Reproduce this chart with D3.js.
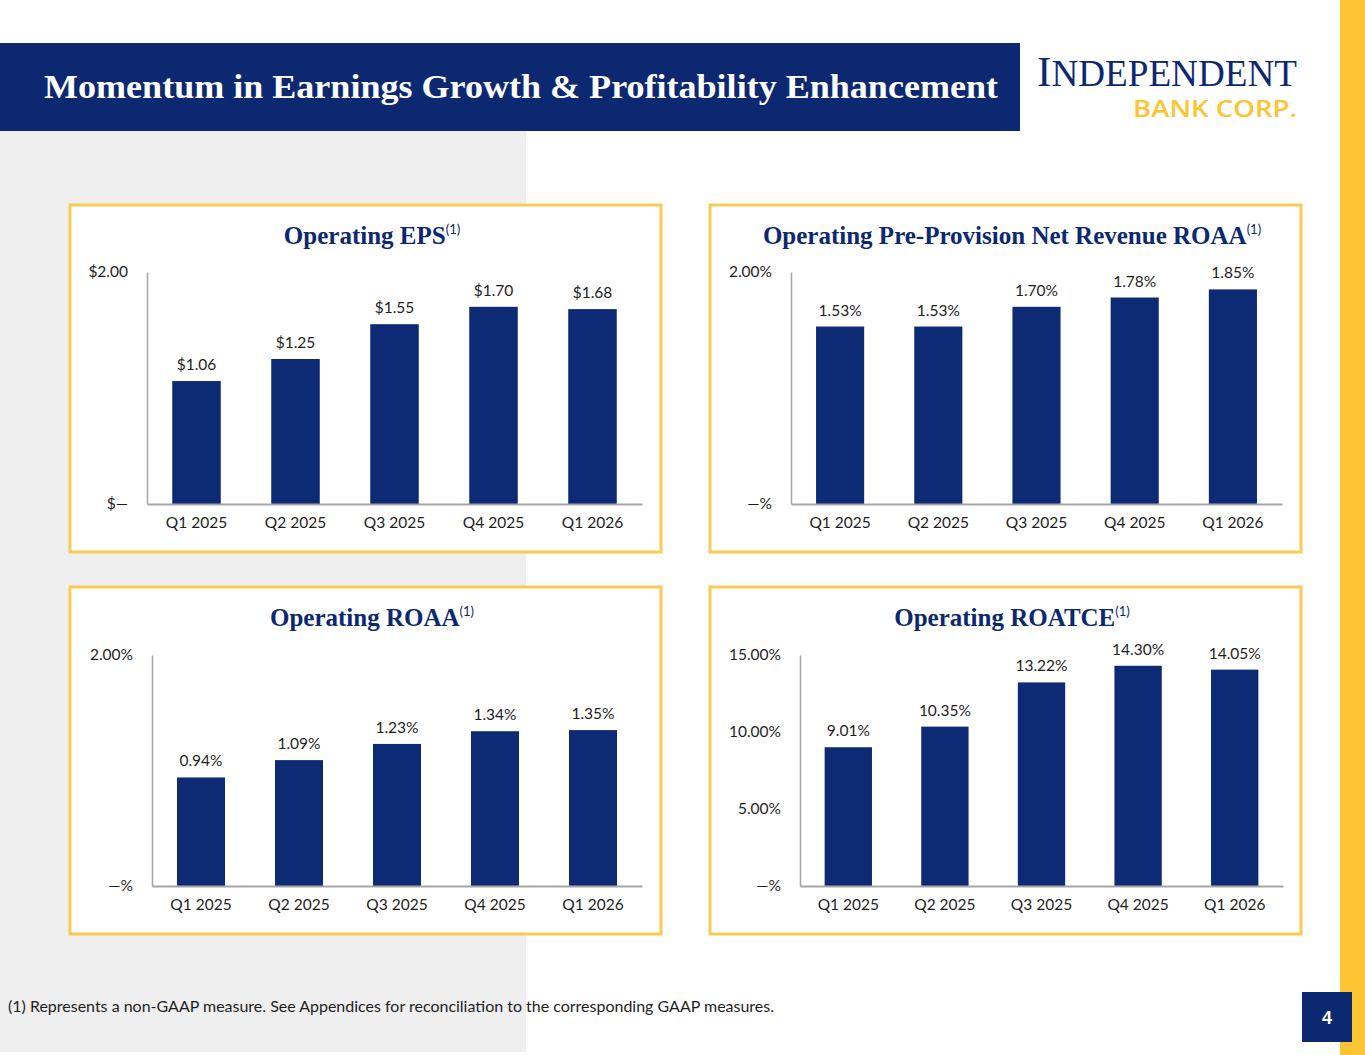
<!DOCTYPE html>
<html>
<head>
<meta charset="utf-8">
<script src="https://cdn.jsdelivr.net/npm/d3@7"></script>
<style>
  html, body { margin: 0; padding: 0; background: #ffffff; }
  svg { display: block; }
</style>
</head>
<body>
<script>
// Slide colors
var navy = '#0c2870';
var barColor = '#0d2a75';
var yellow = '#fdc533';
var panelBorder = '#f9cb55';
var axisGrey = '#a6a6a6';
var textDark = '#1e1e1e';

// Data
var quarters = ['Q1 2025', 'Q2 2025', 'Q3 2025', 'Q4 2025', 'Q1 2026'];
var epsValues = [1.06, 1.25, 1.55, 1.70, 1.68];
var pprnRoaaValues = [1.53, 1.53, 1.70, 1.78, 1.85];
var roaaValues = [0.94, 1.09, 1.23, 1.34, 1.35];
var roatceValues = [9.01, 10.35, 13.22, 14.30, 14.05];

var epsTicks = [0, 2];
var twoPctTicks = [0, 2];
var roatceTicks = [0, 5, 10, 15];

var epsTickLabels = ['$\u2014', '$2.00'];
var twoPctTickLabels = ['\u2014%', '2.00%'];
var roatceTickLabels = ['\u2014%', '5.00%', '10.00%', '15.00%'];

var width = 1365, height = 1055;
var labelFont = 'Lato, "Open Sans", sans-serif';
var serifFont = '"Liberation Serif", "DejaVu Serif", serif';

var svg = d3.select('body').append('svg')
  .attr('width', width)
  .attr('height', height);

// Background pieces
svg.append('rect').attr('x', 0).attr('y', 131).attr('width', 526).attr('height', 921).attr('fill', '#efefef');
svg.append('rect').attr('x', 1340).attr('y', 0).attr('width', 25).attr('height', height).attr('fill', yellow);

// Header bar
svg.append('rect').attr('x', 0).attr('y', 43).attr('width', 1020).attr('height', 88).attr('fill', navy);
svg.append('text')
  .attr('x', 44).attr('y', 98)
  .attr('font-family', serifFont)
  .attr('font-weight', 'bold')
  .attr('font-size', 33)
  .attr('fill', '#ffffff')
  .attr('textLength', 954)
  .attr('lengthAdjust', 'spacingAndGlyphs')
  .text('Momentum in Earnings Growth & Profitability Enhancement');

// Logo (one text block, two lines)
var logo = svg.append('text').attr('fill', navy);
var logoTop = logo.append('tspan')
  .attr('x', 1037).attr('y', 86)
  .attr('font-family', serifFont)
  .attr('textLength', 260)
  .attr('lengthAdjust', 'spacingAndGlyphs');
logoTop.append('tspan').attr('font-size', 43).text('I');
logoTop.append('tspan').attr('font-size', 37).text('NDEPENDENT');
logo.append('tspan')
  .attr('x', 1133).attr('y', 117)
  .attr('font-family', '"Open Sans", sans-serif')
  .attr('font-weight', 600)
  .attr('font-size', 23)
  .attr('fill', yellow)
  .attr('textLength', 164)
  .attr('lengthAdjust', 'spacingAndGlyphs')
  .text('BANK CORP.');

// Panels
var panels = [
  { title: 'Operating EPS', box: [70, 205], axisX: 147, right: 642, top: 272, base: 504,
    values: epsValues, ticks: epsTicks, tickLabels: epsTickLabels, max: 2,
    fmt: function(v) { return '$' + v.toFixed(2); } },
  { title: 'Operating Pre-Provision Net Revenue ROAA', box: [710, 205], axisX: 791, right: 1282, top: 272, base: 504,
    values: pprnRoaaValues, ticks: twoPctTicks, tickLabels: twoPctTickLabels, max: 2,
    fmt: function(v) { return v.toFixed(2) + '%'; } },
  { title: 'Operating ROAA', box: [70, 587], axisX: 152, right: 642, top: 655, base: 886,
    values: roaaValues, ticks: twoPctTicks, tickLabels: twoPctTickLabels, max: 2,
    fmt: function(v) { return v.toFixed(2) + '%'; } },
  { title: 'Operating ROATCE', box: [710, 587], axisX: 800, right: 1283, top: 655, base: 886,
    values: roatceValues, ticks: roatceTicks, tickLabels: roatceTickLabels, max: 15,
    fmt: function(v) { return v.toFixed(2) + '%'; } }
];

var drawPanel = function(p) {
  var g = svg.append('g');
  // Panel frame
  g.append('rect')
    .attr('x', p.box[0]).attr('y', p.box[1])
    .attr('width', 591).attr('height', 347)
    .attr('fill', '#ffffff')
    .attr('stroke', panelBorder)
    .attr('stroke-width', 3);

  // Title with superscript
  var title = g.append('text')
    .attr('x', p.box[0] + 302).attr('y', p.box[1] + 39)
    .attr('text-anchor', 'middle')
    .attr('font-family', serifFont)
    .attr('font-weight', 'bold')
    .attr('font-size', 25)
    .attr('fill', navy);
  title.append('tspan').text(p.title);
  title.append('tspan')
    .attr('font-family', labelFont)
    .attr('font-size', 13)
    .attr('font-weight', 'normal')
    .attr('dy', -10)
    .text('(1)');

  var x = d3.scaleBand()
    .domain(quarters)
    .range([p.axisX, p.right])
    .paddingInner(0.51)
    .paddingOuter(0.255);
  var y = d3.scaleLinear()
    .domain([0, p.max])
    .range([p.base, p.top]);

  // Bars
  g.selectAll('rect.bar')
    .data(p.values)
    .enter()
    .append('rect')
    .attr('class', 'bar')
    .attr('x', (d, i) => x(quarters[i]))
    .attr('y', d => y(d))
    .attr('width', x.bandwidth())
    .attr('height', d => y(0) - y(d))
    .attr('fill', barColor);

  // Value labels
  g.selectAll('text.val')
    .data(p.values)
    .enter()
    .append('text')
    .attr('class', 'val')
    .attr('x', (d, i) => x(quarters[i]) + x.bandwidth() / 2)
    .attr('y', d => y(d) - 11)
    .attr('text-anchor', 'middle')
    .attr('font-family', labelFont)
    .attr('font-size', 15.5)
    .attr('fill', textDark)
    .text(d => p.fmt(d));

  // Y axis (line + labels only)
  var yAxis = d3.axisLeft(y)
    .tickValues(p.ticks)
    .tickSize(0)
    .tickPadding(19)
    .tickFormat((d, i) => p.tickLabels[i]);
  var yg = g.append('g').attr('transform', 'translate(' + p.axisX + ',0)').call(yAxis);
  yg.select('.domain').attr('stroke', axisGrey).attr('stroke-width', 1.5);
  yg.selectAll('text').attr('font-family', labelFont).attr('font-size', 15.5).attr('fill', textDark);

  // X axis
  var xAxis = d3.axisBottom(x).tickSize(0).tickPadding(13);
  var xg = g.append('g').attr('transform', 'translate(0,' + p.base + ')').call(xAxis);
  xg.select('.domain').attr('stroke', axisGrey).attr('stroke-width', 2);
  xg.selectAll('text').attr('font-family', labelFont).attr('font-size', 15.5).attr('fill', textDark);
}

panels.forEach(drawPanel);

// Footnote
svg.append('text')
  .attr('x', 8).attr('y', 1012)
  .attr('font-family', labelFont)
  .attr('font-size', 15)
  .attr('fill', textDark)
  .attr('textLength', 766)
  .attr('lengthAdjust', 'spacingAndGlyphs')
  .text('(1) Represents a non-GAAP measure. See Appendices for reconciliation to the corresponding GAAP measures.');

// Page number
svg.append('rect').attr('x', 1302).attr('y', 992).attr('width', 50).attr('height', 50).attr('fill', navy);
svg.append('text')
  .attr('x', 1327).attr('y', 1024)
  .attr('text-anchor', 'middle')
  .attr('font-family', '"Liberation Sans", Arial, sans-serif')
  .attr('font-weight', 'bold')
  .attr('font-size', 18)
  .attr('fill', '#ffffff')
  .text('4');
</script>
</body>
</html>
